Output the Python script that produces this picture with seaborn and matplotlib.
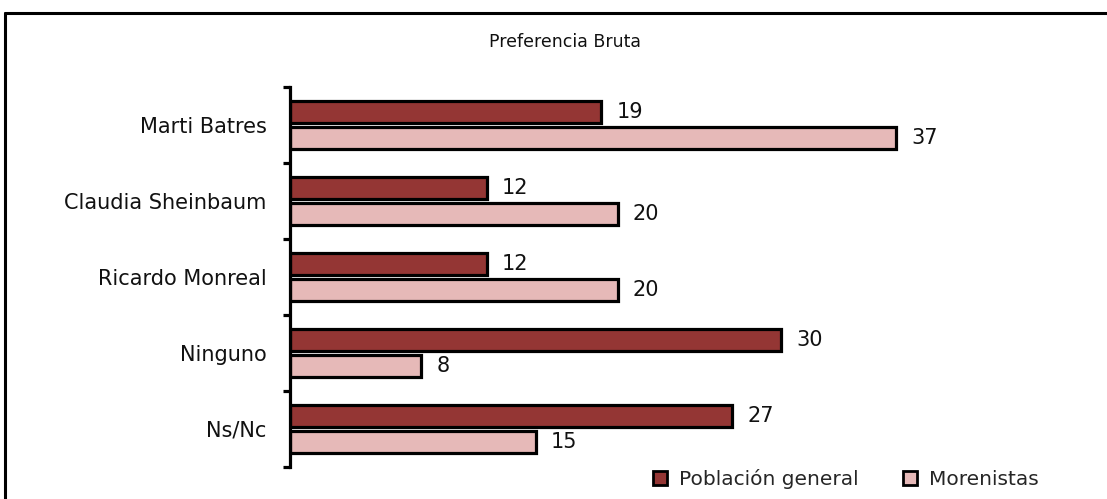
import numpy as np
import pandas as pd
import matplotlib.pyplot as plt
import seaborn as sns
from matplotlib.lines import Line2D
from matplotlib.patches import Patch

candidatos = ["Marti Batres", "Claudia Sheinbaum", "Ricardo Monreal", "Ninguno", "Ns/Nc"]
poblacion_general = [19, 12, 12, 30, 27]
morenistas = [37, 20, 20, 8, 15]
grupos = ["Población general", "Morenistas"]
colores = ["#943634", "#E6B9B8"]

df = pd.DataFrame({
    "candidato": candidatos * 2,
    "valor": poblacion_general + morenistas,
    "grupo": [grupos[0]] * len(candidatos) + [grupos[1]] * len(candidatos),
})

sns.set_style("white")
plt.rcParams['font.family'] = ['DejaVu Sans']

fig = plt.figure(figsize=(11.07, 4.99), dpi=100)
ax = fig.add_axes([290 / 1107, 1 - 467 / 499, (1060 - 290) / 1107, 380 / 499])

sns.barplot(data=df, y="candidato", x="valor", hue="grupo", orient="h",
            palette=colores, saturation=1, edgecolor="black", linewidth=2.3,
            width=0.68, gap=0.18, legend=False, ax=ax)

for cont in ax.containers:
    ax.bar_label(cont, padding=11, fontsize=15, color="#111111")

ax.set_xlim(0, 47)
ax.set_ylim(4.5, -0.5)
ax.set_xlabel("")
ax.set_ylabel("")
ax.set_xticks([])
for s in ["top", "right", "bottom"]:
    ax.spines[s].set_visible(False)
ax.spines["left"].set_linewidth(2.3)
ax.spines["left"].set_color("black")

# ticks at category boundaries, labels centred without tick marks
ax.set_yticks(np.arange(len(candidatos)))
ax.set_yticklabels(candidatos, fontsize=15, color="#111111")
ax.set_yticks(np.arange(-0.5, len(candidatos)), minor=True)
ax.tick_params(axis="y", which="major", length=0, pad=17)
ax.tick_params(axis="y", which="minor", length=5, width=2.3, color="black", direction="out", left=True)

fig.text(0.51, 1 - 42 / 499, "Preferencia Bruta", ha="center", va="center",
         fontsize=12.5, color="#111111")

handles = [Patch(facecolor=c, edgecolor="black", linewidth=2) for c in colores]
fig.legend(handles, grupos, loc="center right", bbox_to_anchor=(0.955, 1 - 479 / 499),
           ncol=2, frameon=False, fontsize=14.5, handlelength=0.7, handleheight=0.7,
           handletextpad=0.6, columnspacing=2.2)

# frame of the original picture: top and left edges only
fig.add_artist(Line2D([5 / 1107, 1.05], [1 - 13 / 499, 1 - 13 / 499], color="black",
                      linewidth=2.2, transform=fig.transFigure))
fig.add_artist(Line2D([5 / 1107, 5 / 1107], [-0.05, 1 - 13 / 499], color="black",
                      linewidth=2.2, transform=fig.transFigure))

fig.savefig("out.png", dpi=100)
